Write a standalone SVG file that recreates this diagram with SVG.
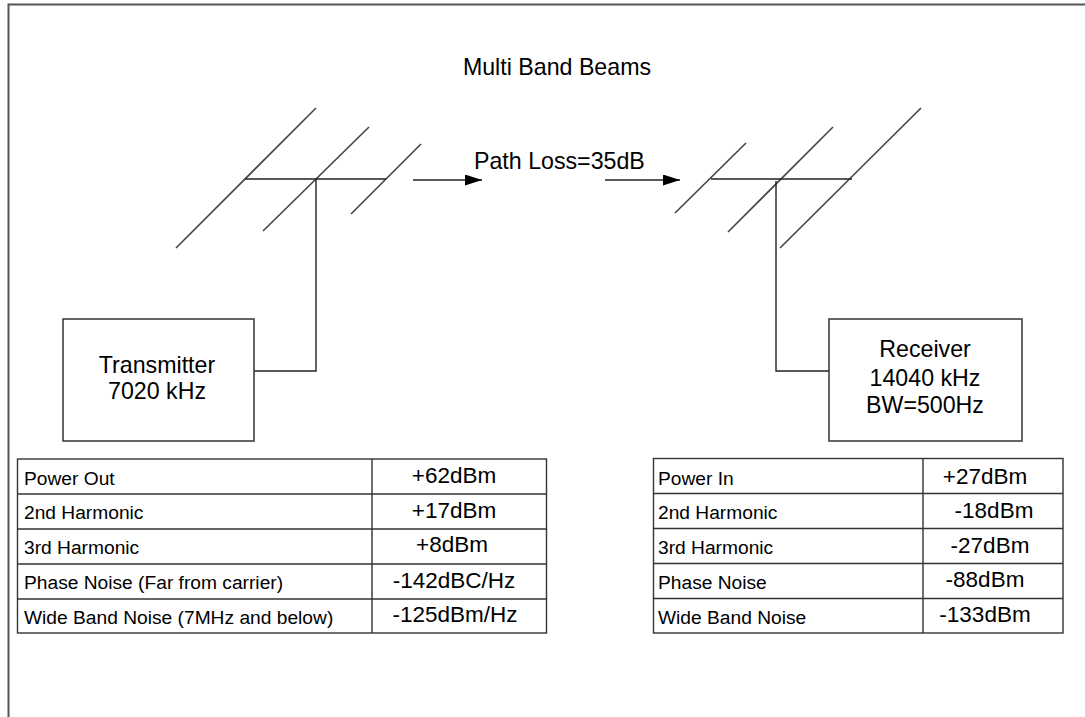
<svg xmlns="http://www.w3.org/2000/svg" width="1085" height="717" viewBox="0 0 1085 717">
<style>
  text { font-family: "Liberation Sans", Arial, sans-serif; fill: #000; }
  .big { font-size: 23.2px; }
  .lbl { font-size: 19.2px; }
  .val { font-size: 22.5px; text-anchor: middle; }
  .mid { text-anchor: middle; }
  .ln { stroke: #222; stroke-width: 1.4; fill: none; }
  .el { stroke: #444; stroke-width: 1.6; fill: none; }
  .box { stroke: #333; stroke-width: 1.5; fill: #fff; }
  .tb { stroke: #333; stroke-width: 1.4; fill: none; }
</style>
<defs>
  <marker id="arr" markerWidth="17" markerHeight="11" refX="17" refY="5.5" orient="auto" markerUnits="userSpaceOnUse" viewBox="0 0 17 11">
    <path d="M0,0 L17,5.5 L0,11 Z" fill="#000"/>
  </marker>
</defs>
<rect width="1085" height="717" fill="#fff"/>
<path d="M8.5,717 V4.5 H1085" stroke="#555" stroke-width="2" fill="none"/>
<text class="big mid" x="557" y="75">Multi Band Beams</text>

<g id="tx-antenna">
  <line class="el" x1="176" y1="248" x2="316" y2="108"/>
  <line class="el" x1="263" y1="231" x2="369" y2="127"/>
  <line class="el" x1="351" y1="214" x2="421" y2="144"/>
  <line class="ln" x1="245" y1="179" x2="386" y2="179"/>
</g>
<g id="rx-antenna">
  <line class="el" x1="675" y1="213" x2="746" y2="143"/>
  <line class="el" x1="728" y1="232" x2="833" y2="127"/>
  <line class="el" x1="780" y1="248" x2="921" y2="108"/>
  <line class="ln" x1="711" y1="179" x2="852" y2="179"/>
</g>

<g id="connectors">
  <polyline class="ln" points="316,179 316,371 254,371"/>
  <polyline class="ln" points="776,181 776,371 829,371"/>
  <line class="ln" x1="413" y1="180" x2="482" y2="180" stroke="#000" marker-end="url(#arr)"/>
  <line class="ln" x1="605" y1="180" x2="680" y2="180" stroke="#000" marker-end="url(#arr)"/>
  <text class="big" x="474" y="169">Path Loss=35dB</text>
</g>

<g id="transmitter">
  <rect class="box" x="63" y="319" width="191" height="122"/>
  <text class="big mid" x="157" y="373">Transmitter</text>
  <text class="big mid" x="157" y="399">7020 kHz</text>
</g>
<g id="receiver">
  <rect class="box" x="829" y="319" width="193" height="122"/>
  <text class="big mid" x="925" y="357">Receiver</text>
  <text class="big mid" x="925" y="386">14040 kHz</text>
  <text class="big mid" x="925" y="413">BW=500Hz</text>
</g>

<g id="tx-table">
  <rect class="tb" x="17.5" y="459" width="529" height="174"/>
  <path class="tb" d="M372,459 V633 M17.5,494 H546.5 M17.5,529 H546.5 M17.5,564 H546.5 M17.5,599 H546.5"/>
  <text class="lbl" x="24" y="485">Power Out</text>
  <text class="lbl" x="24" y="519">2nd Harmonic</text>
  <text class="lbl" x="24" y="554">3rd Harmonic</text>
  <text class="lbl" x="24" y="589">Phase Noise (Far from carrier)</text>
  <text class="lbl" x="24" y="624">Wide Band Noise (7MHz and below)</text>
  <text class="val" x="454" y="483">+62dBm</text>
  <text class="val" x="454" y="518">+17dBm</text>
  <text class="val" x="452" y="552">+8dBm</text>
  <text class="val" x="454" y="588">-142dBC/Hz</text>
  <text class="val" x="455" y="622">-125dBm/Hz</text>
</g>
<g id="rx-table">
  <rect class="tb" x="653.5" y="458.5" width="409.5" height="174.5"/>
  <path class="tb" d="M923,458.5 V633 M653.5,493.5 H1063 M653.5,528.5 H1063 M653.5,563.5 H1063 M653.5,598.5 H1063"/>
  <text class="lbl" x="658" y="485">Power In</text>
  <text class="lbl" x="658" y="519">2nd Harmonic</text>
  <text class="lbl" x="658" y="554">3rd Harmonic</text>
  <text class="lbl" x="658" y="589">Phase Noise</text>
  <text class="lbl" x="658" y="624">Wide Band Noise</text>
  <text class="val" x="985" y="484">+27dBm</text>
  <text class="val" x="994" y="518">-18dBm</text>
  <text class="val" x="990" y="553">-27dBm</text>
  <text class="val" x="985" y="587">-88dBm</text>
  <text class="val" x="985" y="622">-133dBm</text>
</g>
</svg>
